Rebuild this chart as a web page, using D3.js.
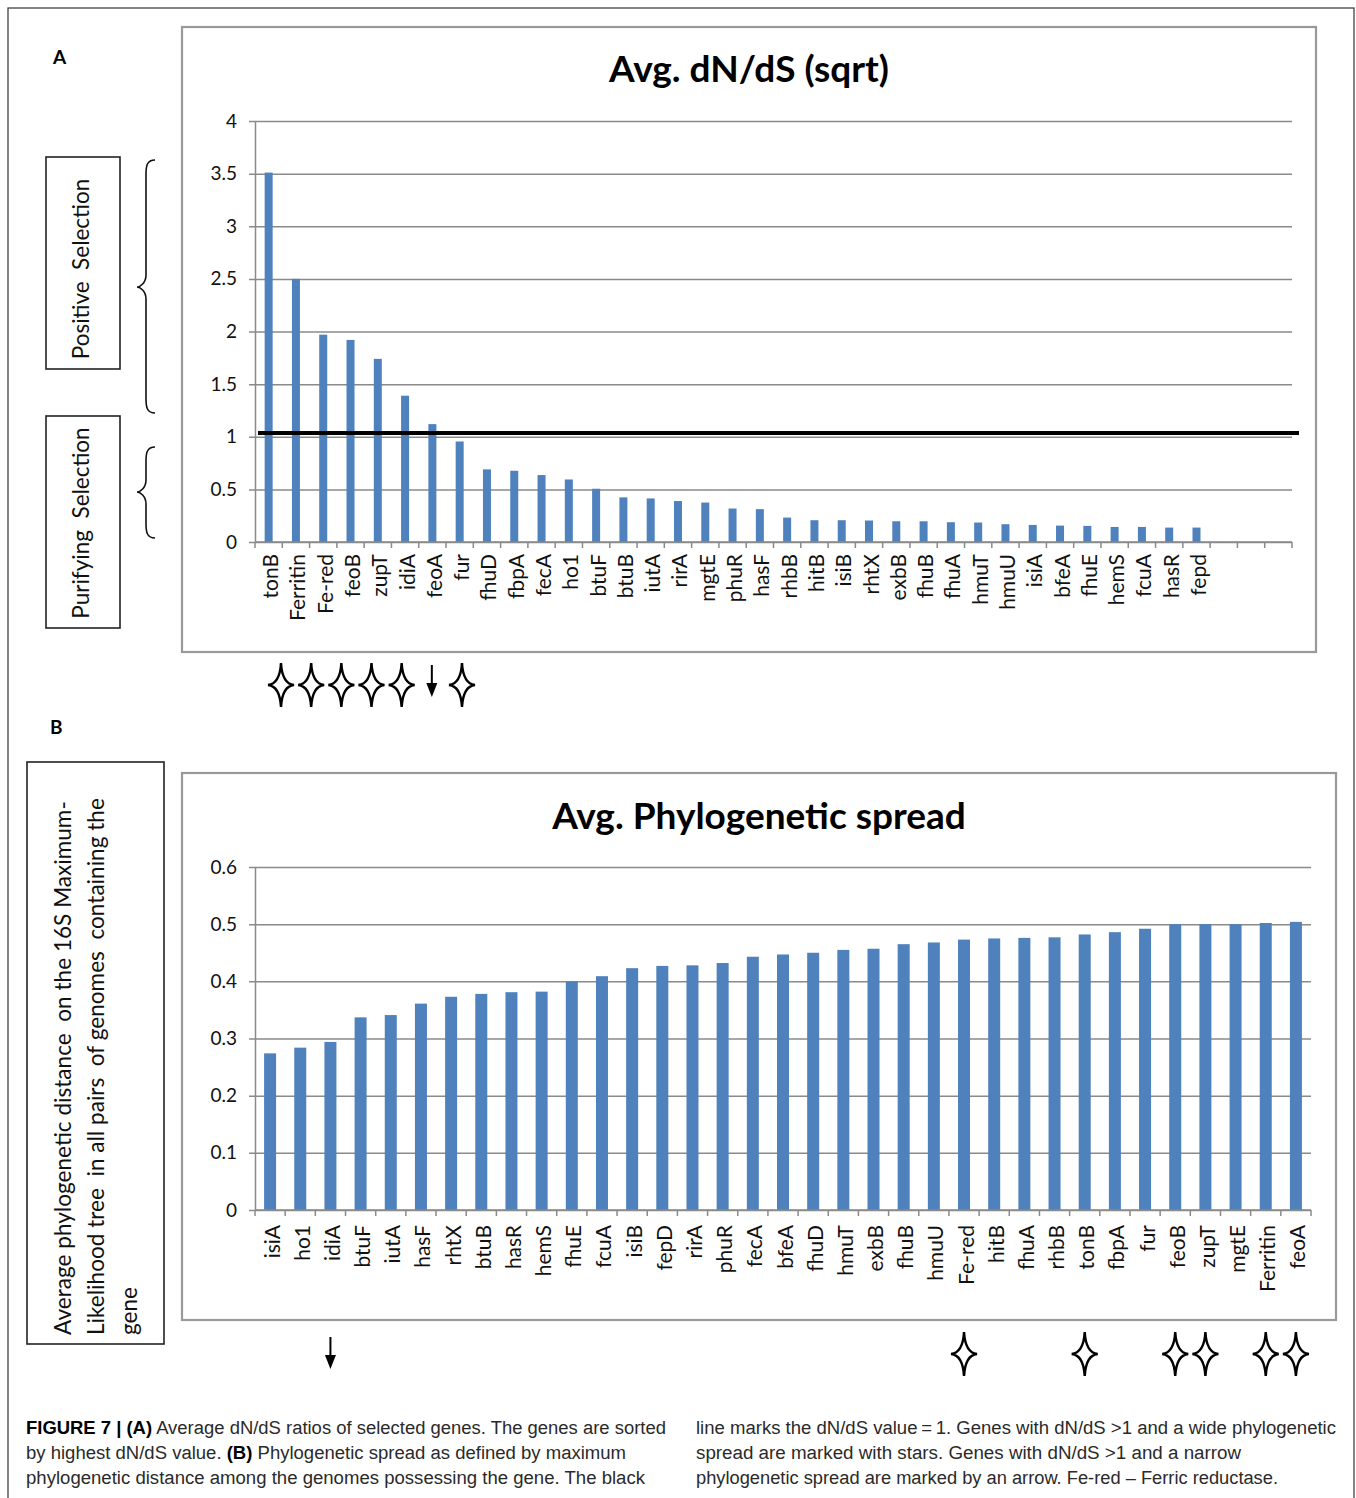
<!DOCTYPE html>
<html>
<head>
<meta charset="utf-8">
<script src="https://cdn.jsdelivr.net/npm/d3@7"></script>
<style>
  body { margin: 0; background: #fff; }
  text { font-family: Lato, "Open Sans", sans-serif; }
  .pre { white-space: pre; }
  .cap { font-family: "Liberation Sans Narrow", "Liberation Sans", sans-serif; }
</style>
</head>
<body>
<div id="fig"></div>
<script>
// panel A: dN/dS, sorted high to low
var genesA = ["tonB", "Ferritin", "Fe-red", "feoB", "zupT", "idiA", "feoA", "fur", "fhuD", "fbpA",
  "fecA", "ho1", "btuF", "btuB", "iutA", "rirA", "mgtE", "phuR", "hasF", "rhbB",
  "hitB", "isiB", "rhtX", "exbB", "fhuB", "fhuA", "hmuT", "hmuU", "isiA", "bfeA",
  "fhuE", "hemS", "fcuA", "hasR", "fepd"];
var dnds = [3.51, 2.50, 1.97, 1.92, 1.74, 1.39, 1.12, 0.955, 0.69, 0.677,
  0.636, 0.594, 0.506, 0.424, 0.414, 0.389, 0.375, 0.318, 0.312, 0.232,
  0.207, 0.207, 0.204, 0.197, 0.197, 0.188, 0.185, 0.169, 0.162, 0.156,
  0.153, 0.143, 0.143, 0.137, 0.137];
var slotsA = 38;           // the excel axis has 3 empty slots at the end
var ticksA = [0, 0.5, 1, 1.5, 2, 2.5, 3, 3.5, 4];
var cutoff = 1.035;        // the black line, drawn a bit above 1
var markersA = ["star", "star", "star", "star", "star", "arrow", "star"];

// panel B: phylogenetic spread, sorted low to high
var genesB = ["isiA", "ho1", "idiA", "btuF", "iutA", "hasF", "rhtX", "btuB", "hasR", "hemS",
  "fhuE", "fcuA", "isiB", "fepD", "rirA", "phuR", "fecA", "bfeA", "fhuD", "hmuT",
  "exbB", "fhuB", "hmuU", "Fe-red", "hitB", "fhuA", "rhbB", "tonB", "fbpA", "fur",
  "feoB", "zupT", "mgtE", "Ferritin", "feoA"];
var spread = [0.274, 0.284, 0.294, 0.337, 0.341, 0.361, 0.373, 0.378, 0.381, 0.382,
  0.400, 0.409, 0.423, 0.427, 0.428, 0.432, 0.443, 0.447, 0.450, 0.455,
  0.457, 0.465, 0.468, 0.473, 0.475, 0.476, 0.477, 0.482, 0.486, 0.492,
  0.500, 0.500, 0.500, 0.502, 0.504];
var ticksB = [0, 0.1, 0.2, 0.3, 0.4, 0.5, 0.6];
var starsB = ["Fe-red", "tonB", "feoB", "zupT", "Ferritin", "feoA"];
var arrowsB = ["idiA"];

var blue = "#4f81bd", grid = "#8a8a8a";

var svg = d3.select("#fig").append("svg")
    .attr("width", 1356)
    .attr("height", 1498);

svg.append("rect")
    .attr("x", 8).attr("y", 8).attr("width", 1346).attr("height", 1500)
    .attr("fill", "none").attr("stroke", "#333").attr("stroke-width", 1.2);

// star / arrow glyphs
function starPath(h, w) {
  var a = h / 2, b = w / 2, c = 1.2;
  return "M0," + (-a) +
    " Q" + c + "," + (-c) + " " + b + ",0" +
    " Q" + c + "," + c + " 0," + a +
    " Q" + (-c) + "," + c + " " + (-b) + ",0" +
    " Q" + (-c) + "," + (-c) + " 0," + (-a) + "Z";
}
function drawStar(g, x, y) {
  g.append("path")
      .attr("d", starPath(44, 26))
      .attr("transform", "translate(" + x + "," + y + ")")
      .attr("fill", "#fff").attr("stroke", "#000").attr("stroke-width", 2.4)
      .attr("stroke-linejoin", "miter");
}
function drawArrow(g, x, y) {
  // y = top of the shaft
  g.append("line")
      .attr("x1", x).attr("x2", x).attr("y1", y).attr("y2", y + 19)
      .attr("stroke", "#000").attr("stroke-width", 2);
  g.append("path")
      .attr("d", "M" + (x - 5.5) + "," + (y + 18) + " L" + (x + 5.5) + "," + (y + 18) + " L" + x + "," + (y + 32) + "Z")
      .attr("fill", "#000");
}

function bracePath(x, y0, y1, tip) {
  var xm = x + 9, xe = x + 18;
  return "M" + xe + "," + y0 +
    " C" + (xm + 1) + "," + y0 + " " + xm + "," + (y0 + 6) + " " + xm + "," + (y0 + 14) +
    " L" + xm + "," + (tip - 12) +
    " C" + xm + "," + (tip - 4) + " " + (x + 3) + "," + tip + " " + x + "," + tip +
    " C" + (x + 3) + "," + tip + " " + xm + "," + (tip + 4) + " " + xm + "," + (tip + 12) +
    " L" + xm + "," + (y1 - 14) +
    " C" + xm + "," + (y1 - 6) + " " + (xm + 1) + "," + y1 + " " + xe + "," + y1;
}

// generic bar chart inside a frame
function barChart(opt) {
  var g = svg.append("g");
  g.append("rect")
      .attr("x", opt.frame[0]).attr("y", opt.frame[1])
      .attr("width", opt.frame[2] - opt.frame[0]).attr("height", opt.frame[3] - opt.frame[1])
      .attr("fill", "#fff").attr("stroke", "#999").attr("stroke-width", 2.2);

  g.append("text")
      .attr("x", opt.titleX).attr("y", opt.titleY)
      .attr("text-anchor", "middle")
      .attr("font-size", 37).attr("font-weight", "bold")
      .text(opt.title);

  var x = d3.scaleBand().domain(d3.range(opt.slots)).range([opt.left, opt.right]);
  var y = d3.scaleLinear().domain([0, opt.ymax]).range([opt.bottom, opt.top]);

  // gridlines + y axis
  var yAxis = d3.axisLeft(y).tickValues(opt.ticks).tickSizeInner(-(opt.right - opt.left)).tickSizeOuter(0)
      .tickPadding(18).tickFormat(d3.format("~g"));
  var ya = g.append("g").attr("transform", "translate(" + opt.left + ",0)").call(yAxis);
  ya.select(".domain").attr("stroke", grid).attr("stroke-width", 1.5);
  ya.selectAll(".tick line").attr("stroke", grid).attr("stroke-width", 1.5).attr("x1", -6);
  ya.selectAll(".tick text").attr("font-size", 19).attr("fill", "#111")
      .attr("font-family", "Lato, sans-serif");

  g.selectAll(".bar")
      .data(opt.values)
      .enter().append("rect")
      .attr("class", "bar")
      .attr("x", function(d, i) { return x(i) + (x.bandwidth() - opt.barW) / 2; })
      .attr("width", opt.barW)
      .attr("y", function(d) { return y(d); })
      .attr("height", function(d) { return y(0) - y(d); })
      .attr("fill", blue);

  // x axis line and boundary ticks
  g.append("line")
      .attr("x1", opt.left).attr("x2", opt.right).attr("y1", y(0)).attr("y2", y(0))
      .attr("stroke", grid).attr("stroke-width", 1.5);
  g.selectAll(".xt")
      .data(d3.range(opt.slots + 1))
      .enter().append("line")
      .attr("x1", function(i) { return opt.left + i * x.step(); })
      .attr("x2", function(i) { return opt.left + i * x.step(); })
      .attr("y1", y(0)).attr("y2", y(0) + 6)
      .attr("stroke", grid).attr("stroke-width", 1.5);

  g.selectAll(".xl")
      .data(opt.genes)
      .enter().append("text")
      .attr("transform", function(d, i) {
        return "translate(" + (x(i) + x.bandwidth() / 2 + 1) + "," + (y(0) + opt.labelGap) + ") rotate(-90)";
      })
      .attr("text-anchor", "end")
      .attr("dominant-baseline", "central")
      .attr("font-size", 21).attr("fill", "#111")
      .text(function(d) { return d; });

  return { g: g, x: x, y: y };
}

// ---------- panel A
var A = barChart({
  frame: [182, 27, 1316, 652],
  title: "Avg. dN/dS (sqrt)", titleX: 749, titleY: 82,
  slots: slotsA, genes: genesA, values: dnds,
  left: 255, right: 1292, top: 121, bottom: 542, ymax: 4,
  ticks: ticksA, barW: 8, labelGap: 12
});

A.g.append("line")
    .attr("x1", 258).attr("x2", 1299)
    .attr("y1", A.y(cutoff)).attr("y2", A.y(cutoff))
    .attr("stroke", "#000").attr("stroke-width", 4);

svg.append("text").attr("x", 53).attr("y", 64)
    .attr("font-size", 19).attr("font-weight", "bold").attr("font-family", "'Liberation Sans', sans-serif").text("A");

var leftBoxes = [
  { label: "Positive  Selection", y0: 157, y1: 369, mid: 269 },
  { label: "Purifying  Selection", y0: 416, y1: 628, mid: 523 }
];
leftBoxes.forEach(function(b) {
  svg.append("rect")
      .attr("x", 46).attr("y", b.y0).attr("width", 74).attr("height", b.y1 - b.y0)
      .attr("fill", "none").attr("stroke", "#222").attr("stroke-width", 1.6);
  svg.append("text")
      .attr("class", "pre")
      .attr("transform", "translate(80," + b.mid + ") rotate(-90)")
      .attr("text-anchor", "middle").attr("dominant-baseline", "central")
      .attr("font-size", 22.5).attr("fill", "#111")
      .text(b.label);
});

svg.append("path").attr("d", bracePath(137, 160, 413, 287))
    .attr("fill", "none").attr("stroke", "#111").attr("stroke-width", 1.6);
svg.append("path").attr("d", bracePath(137, 447, 538, 492))
    .attr("fill", "none").attr("stroke", "#111").attr("stroke-width", 1.6);

var mA = d3.scalePoint().domain(d3.range(markersA.length)).range([281, 462]);
var gm = svg.append("g");
markersA.forEach(function(m, i) {
  if (m === "star") drawStar(gm, mA(i), 685);
  else drawArrow(gm, mA(i), 665);
});

// ---------- panel B
svg.append("text").attr("x", 50).attr("y", 734)
    .attr("font-size", 19).attr("font-weight", "bold").attr("font-family", "'Liberation Sans', sans-serif").text("B");

var B = barChart({
  frame: [182, 773, 1336, 1320],
  title: "Avg. Phylogenetic spread", titleX: 759, titleY: 829,
  slots: genesB.length, genes: genesB, values: spread,
  left: 255, right: 1311, top: 867, bottom: 1210, ymax: 0.6,
  ticks: ticksB, barW: 12, labelGap: 15
});

svg.append("rect")
    .attr("x", 27).attr("y", 762).attr("width", 137).attr("height", 582)
    .attr("fill", "none").attr("stroke", "#222").attr("stroke-width", 1.6);
var sideLines = [
  "Average phylogenetic distance  on the 16S Maximum-",
  "Likelihood tree  in all pairs  of genomes  containing the",
  "gene"
];
svg.selectAll(".side")
    .data(sideLines)
    .enter().append("text")
    .attr("class", "pre")
    .attr("transform", function(d, i) { return "translate(" + (62 + i * 33) + ",1335) rotate(-90)"; })
    .attr("text-anchor", "start").attr("dominant-baseline", "central")
    .attr("font-size", 22.6).attr("fill", "#111")
    .text(function(d) { return d; });

var gb = svg.append("g");
starsB.forEach(function(gname) {
  var i = genesB.indexOf(gname);
  drawStar(gb, B.x(i) + B.x.bandwidth() / 2, 1354);
});
arrowsB.forEach(function(gname) {
  var i = genesB.indexOf(gname);
  drawArrow(gb, B.x(i) + B.x.bandwidth() / 2, 1337);
});

// ---------- caption
var caption = [
  { x: 26, y: 1434, w: 640, parts: [["FIGURE 7 | (A)", 1], [" Average dN/dS ratios of selected genes. The genes are sorted", 0]] },
  { x: 26, y: 1459, w: 600, parts: [["by highest dN/dS value. ", 0], ["(B)", 1], [" Phylogenetic spread as defined by maximum", 0]] },
  { x: 26, y: 1484, w: 619, parts: [["phylogenetic distance among the genomes possessing the gene. The black", 0]] },
  { x: 696, y: 1434, w: 640, parts: [["line marks the dN/dS value\u2009=\u20091. Genes with dN/dS >1 and a wide phylogenetic", 0]] },
  { x: 696, y: 1459, w: 545, parts: [["spread are marked with stars. Genes with dN/dS >1 and a narrow", 0]] },
  { x: 696, y: 1484, w: 582, parts: [["phylogenetic spread are marked by an arrow. Fe-red \u2013 Ferric reductase.", 0]] }
];
caption.forEach(function(c) {
  var t = svg.append("text")
      .attr("class", "cap pre")
      .attr("x", c.x).attr("y", c.y)
      .attr("font-size", 18).attr("fill", "#222")
      .attr("textLength", c.w).attr("lengthAdjust", "spacingAndGlyphs");
  c.parts.forEach(function(p) {
    t.append("tspan").attr("font-weight", p[1] ? "bold" : "normal")
        .attr("fill", p[1] ? "#000" : "#2a2a2a").text(p[0]);
  });
});
</script>
</body>
</html>
